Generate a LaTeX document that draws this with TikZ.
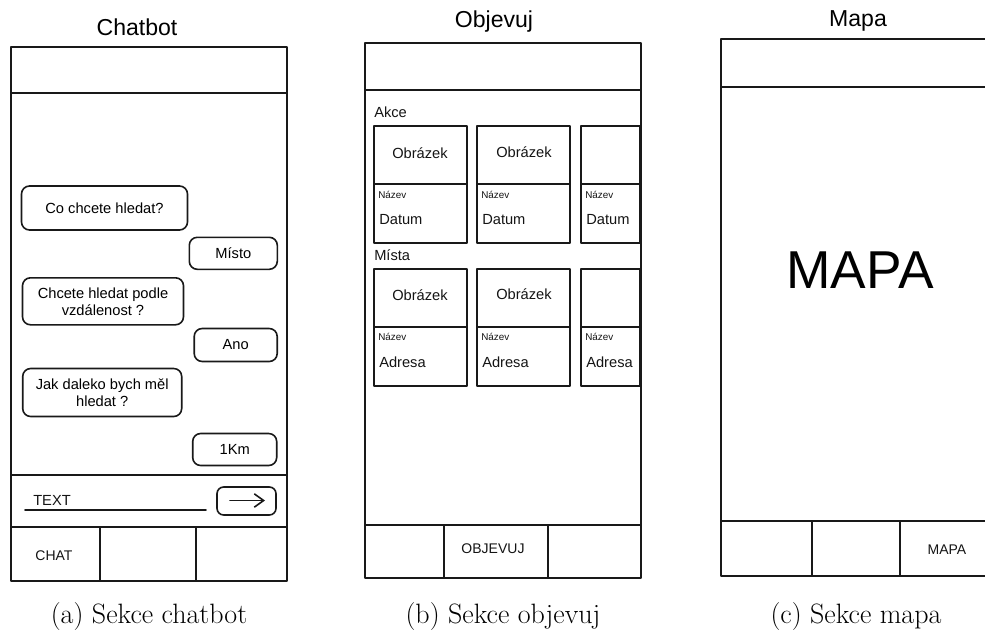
\documentclass[tikz,border=0pt]{standalone}
\usepackage{fontspec}
\newfontfamily\wf{Liberation Sans}
\usetikzlibrary{arrows.meta}
\begin{document}
\begin{tikzpicture}[x=0.75pt,y=-0.75pt,
  ink/.style={draw=black!90, line width=1.2pt, line join=round, line cap=round},
  bubble/.style={ink, rounded corners=6pt, font=\wf\fontsize{11}{12.75}\selectfont,
    align=center, inner sep=0pt},
  lbl/.style={font=\wf\fontsize{11}{13}\selectfont, text=black!92, inner sep=0pt},
  navlbl/.style={font=\wf\fontsize{10.5}{12}\selectfont, text=black!92, inner sep=0pt},
  tiny/.style={font=\wf\fontsize{7.4}{9}\selectfont, text=black!92, inner sep=0pt, anchor=west},
  title/.style={font=\wf\fontsize{17.3}{20}\selectfont, inner sep=0pt},
  caption/.style={font=\fontsize{21}{25}\selectfont, inner sep=0pt, anchor=base},
]
\useasboundingbox (0,0) rectangle (985,629);
\clip (0,0) rectangle (985,629);

% ---------------- Chatbot screen ----------------
\node[title] (tChat) at (137,27) {Chatbot};
\draw[ink] (11,47) rectangle (287,581);
\draw[ink] (11,93) -- (287,93);
\draw[ink] (11,475) -- (287,475);
\draw[ink] (11,527) -- (287,527);
\draw[ink] (100,527) -- (100,581);
\draw[ink] (196,527) -- (196,581);
\node[navlbl] (navChat) at (54,556) {CHAT};

\node[bubble, minimum width=166*0.75pt, minimum height=44*0.75pt] (q1) at (104.5,208) {Co chcete hledat?};
\node[bubble, minimum width=88*0.75pt, minimum height=32*0.75pt] (a1) at (233.3,253.3) {Místo};
\node[bubble, minimum width=161*0.75pt, minimum height=47*0.75pt] (q2) at (103,301.3) {Chcete hledat podle\\vzdálenost ?};
\node[bubble, minimum width=83*0.75pt, minimum height=33*0.75pt] (a2) at (235.7,345) {Ano};
\node[bubble, minimum width=159*0.75pt, minimum height=48*0.75pt] (q3) at (102.2,392.5) {Jak daleko bych měl\\hledat ?};
\node[bubble, minimum width=84*0.75pt, minimum height=32*0.75pt] (a3) at (234.7,449.5) {1Km};

% input line and send button
\node[lbl, anchor=base west] (inTxt) at (33,505) {TEXT};
\coordinate (ulA) at (25,510);
\coordinate (ulB) at (206,510);
\draw[ink] (ulA) -- (ulB);
\node[ink, rounded corners=5pt, minimum width=59*0.75pt, minimum height=28*0.75pt] (send) at (246.5,501) {};
\coordinate (arA) at (230,500.5);
\coordinate (arB) at (265,500.5);
\draw[ink, -{Straight Barb[length=7pt,width=10pt]}] (arA) -- (arB);

\node[caption] (capA) at (149,623) {(a) Sekce chatbot};

% ---------------- Objevuj screen ----------------
\node[title] (tObj) at (494,22) {Objevuj};
\draw[ink] (365,43) rectangle (641,578);
\draw[ink] (365,90) -- (641,90);
\draw[ink] (365,525) -- (641,525);
\draw[ink] (444,525) -- (444,578);
\draw[ink] (548,525) -- (548,578);
\node[navlbl] (navObj) at (493,549) {OBJEVUJ};

\node[lbl, anchor=west] (akce) at (374,112) {Akce};
\node[lbl, anchor=west] (mista) at (374,255) {Místa};

% event cards
\foreach \i/\xa/\xb in {1/374/467, 2/477/570, 3/581/640}{
  \draw[ink] (\xa,126) rectangle (\xb,243);
  \draw[ink] (\xa,184) -- (\xb,184);
  \node[tiny] (evName\i) at (\xa+4,195) {Název};
  \node[lbl, anchor=west] (evDate\i) at (\xa+5,220) {Datum};
}
\node[lbl] (evImg1) at (420,153) {Obrázek};
\node[lbl] (evImg2) at (524,152) {Obrázek};

% place cards
\foreach \i/\xa/\xb in {1/374/467, 2/477/570, 3/581/640}{
  \draw[ink] (\xa,269) rectangle (\xb,386);
  \draw[ink] (\xa,327) -- (\xb,327);
  \node[tiny] (plName\i) at (\xa+4,337) {Název};
  \node[lbl, anchor=west] (plAddr\i) at (\xa+5,362.5) {Adresa};
}
\node[lbl] (plImg1) at (420,295.5) {Obrázek};
\node[lbl] (plImg2) at (524,294.5) {Obrázek};

\node[caption] (capB) at (503,623) {(b) Sekce objevuj};

% ---------------- Mapa screen ----------------
\node[title] (tMap) at (858,21) {Mapa};
\draw[ink] (721,39) rectangle (1000,576);
\draw[ink] (721,87) -- (1000,87);
\draw[ink] (721,521) -- (1000,521);
\draw[ink] (812,521) -- (812,576);
\draw[ink] (900,521) -- (900,576);
\node[navlbl] (navMap) at (947,550) {MAPA};
\node[font=\wf\fontsize{40}{44}\selectfont, inner sep=0pt] (bigMap) at (860,270) {MAPA};

\node[caption] (capC) at (856,623) {(c) Sekce mapa};
\end{tikzpicture}
\end{document}
